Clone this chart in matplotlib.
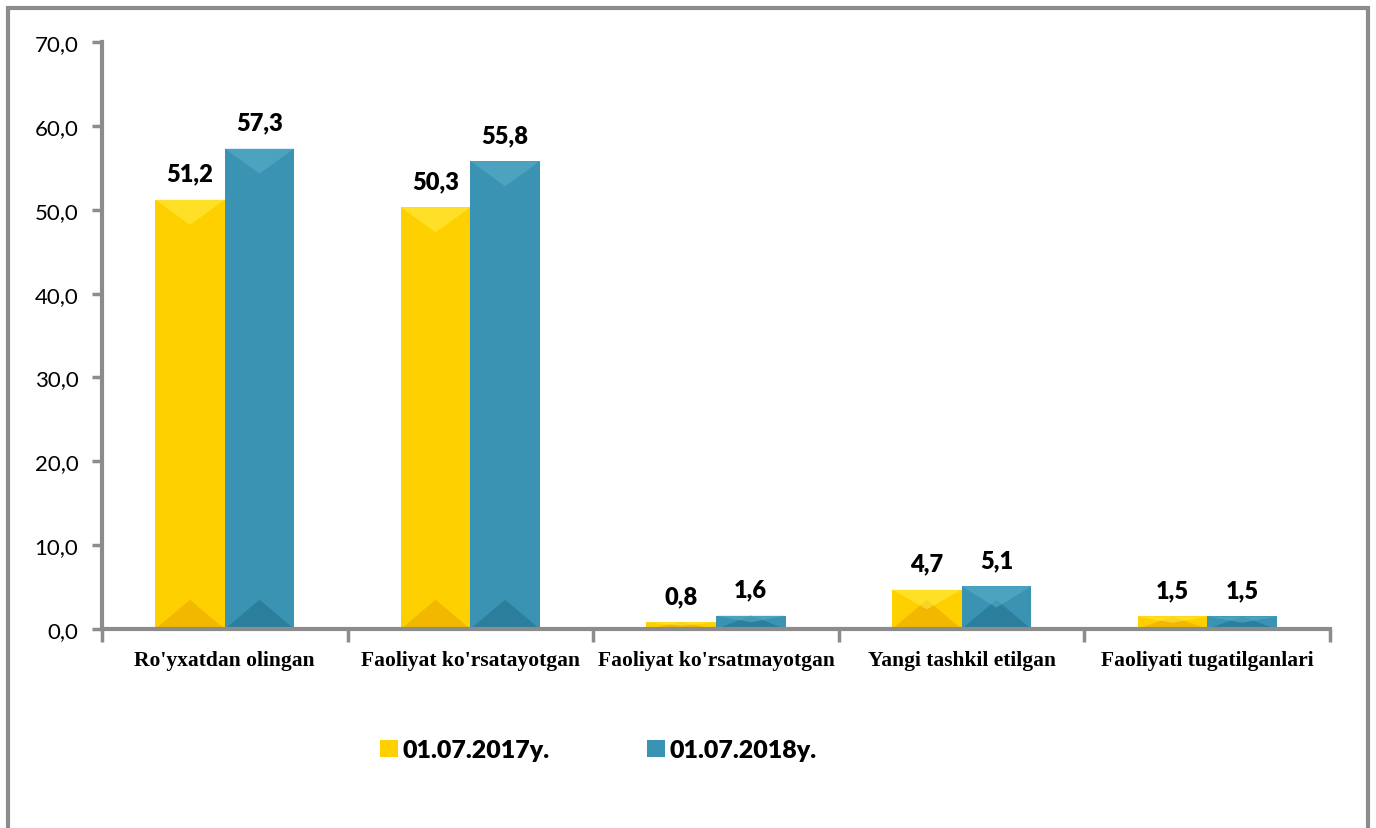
import numpy as np
import matplotlib.pyplot as plt
from matplotlib.patches import Polygon, Rectangle

# Data
categories = ["Ro'yxatdan olingan", "Faoliyat ko'rsatayotgan", "Faoliyat ko'rsatmayotgan",
              "Yangi tashkil etilgan", "Faoliyati tugatilganlari"]
series_names = ['01.07.2017y.', '01.07.2018y.']
values_2017 = [51.2, 50.3, 0.8, 4.7, 1.5]
values_2018 = [57.3, 55.8, 1.6, 5.1, 1.5]
y_ticks = [0, 10, 20, 30, 40, 50, 60, 70]

yellow = '#FFD000'
yellow_dark = '#F2B800'
teal = '#3A93B2'
teal_dark = '#2C7F9C'
gray = '#8C8C8C'

fig = plt.figure(figsize=(13.76, 8.29), dpi=100)
ax = fig.add_axes([0.0741, 0.2400, 0.8925, 0.7081])

x = np.arange(len(categories))
w = 0.283
bars1 = ax.bar(x - w / 2, values_2017, w, color=yellow, label=series_names[0], zorder=2)
bars2 = ax.bar(x + w / 2, values_2018, w, color=teal, label=series_names[1], zorder=2)


def bevel(bars, dark, light):
    # simple bevel look: darker bottom triangle and lighter top strip
    for b in bars:
        x0, y0 = b.get_x(), b.get_y()
        bw, bh = b.get_width(), b.get_height()
        tri = Polygon([(x0, y0), (x0 + bw, y0), (x0 + bw / 2, y0 + min(bh, 3.5))],
                      closed=True, color=dark, zorder=3, lw=0)
        ax.add_patch(tri)
        top = Polygon([(x0, y0 + bh), (x0 + bw, y0 + bh),
                       (x0 + bw / 2, y0 + bh - min(bh * 0.5, 3.0))],
                      closed=True, color=light, zorder=3, lw=0, alpha=0.5)
        ax.add_patch(top)


bevel(bars1, yellow_dark, '#FFF04D')
bevel(bars2, teal_dark, '#5DB4CF')

for bars, vals in [(bars1, values_2017), (bars2, values_2018)]:
    for b, v in zip(bars, vals):
        ax.annotate(f'{v:.1f}'.replace('.', ','), (b.get_x() + b.get_width() / 2, b.get_height()),
                    xytext=(0, 11), textcoords='offset points', ha='center', va='bottom',
                    fontsize=17, fontweight='heavy', family='Lato', color='black')

ax.set_xlim(-0.5, len(categories) - 0.5)
ax.set_ylim(0, 70)
ax.set_yticks(y_ticks)
ax.set_yticklabels([f'{t:.1f}'.replace('.', ',') for t in y_ticks], family='Lato', fontsize=16)
ax.set_xticks(np.arange(-0.5, len(categories), 1.0))
ax.set_xticklabels([])
ax.tick_params(axis='x', direction='out', length=9, width=2.5, color=gray)
ax.tick_params(axis='y', direction='out', length=7, width=2.5, color=gray, pad=10)
for i, c in enumerate(categories):
    ax.text(i, -3.7, c, ha='center', va='center', fontsize=15.5, fontweight='bold',
            family='Liberation Serif', transform=ax.transData)

for s in ['top', 'right']:
    ax.spines[s].set_visible(False)
for s in ['left', 'bottom']:
    ax.spines[s].set_color(gray)
    ax.spines[s].set_linewidth(3)
ax.spines['bottom'].set_zorder(4)

fig.legend(handles=[bars1, bars2], labels=series_names, loc='center',
           bbox_to_anchor=(0.435, 0.094), ncol=2, frameon=False,
           prop={'family': 'Lato', 'weight': 'heavy', 'size': 18},
           handlelength=0.7, handleheight=0.7, handletextpad=0.2, columnspacing=3.9)

# outer frame
fig.patches.append(Rectangle((0.006, -0.01), 0.988, 0.999, transform=fig.transFigure,
                             fill=False, edgecolor=gray, linewidth=3))

fig.savefig('out.png', dpi=100)
